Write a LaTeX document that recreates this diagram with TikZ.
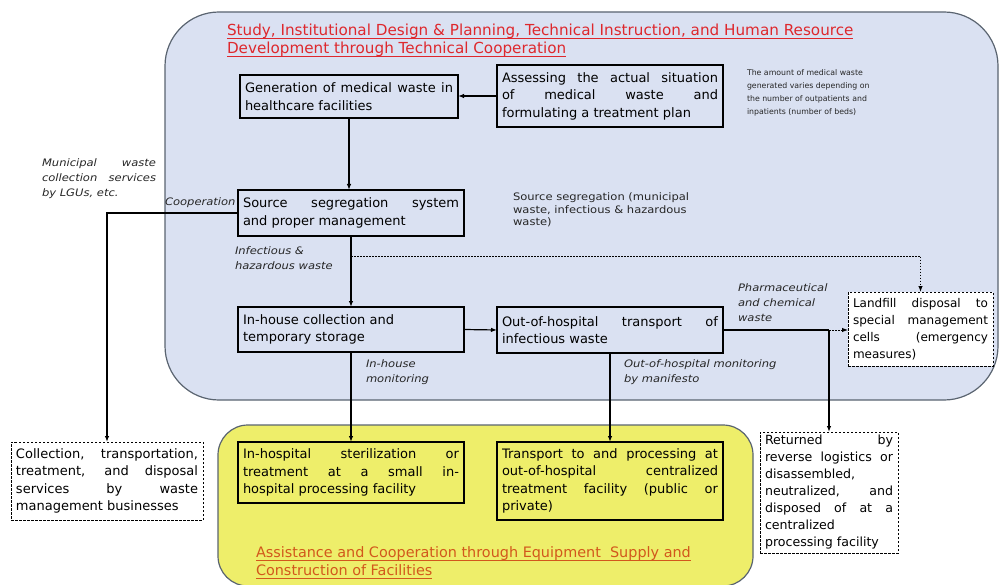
\documentclass[tikz,border=0pt]{standalone}
\usepackage{fontspec}
\setmainfont{DejaVu Sans}
\newfontfamily\notefont[FakeStretch=1.12]{DejaVu Sans}
\usetikzlibrary{arrows.meta}

\definecolor{cdae1f2}{RGB}{218,225,242}
\definecolor{ceeee6a}{RGB}{238,238,106}
\definecolor{cde282d}{RGB}{222,40,45}
\definecolor{cd2581c}{RGB}{210,88,28}
\definecolor{c5a6470}{RGB}{90,100,112}

\newcommand{\ulbar}[1]{\setbox0\hbox{#1}\rlap{\rule[-3.4pt]{\wd0}{1.1pt}}\box0}
\tolerance=9999 \hbadness=10000 \hyphenpenalty=10000 \exhyphenpenalty=10000

\begin{document}
\begin{tikzpicture}[x=1pt, y=1pt, yscale=-1, inner sep=0pt, outer sep=0pt,
  box/.style={draw=black, line width=1.3pt, anchor=north west, align=justify,
    inner xsep=5pt, font=\fontsize{13}{17.5}\selectfont},
  dashbox/.style={box, fill=white, line width=1pt, dash pattern=on 2.5pt off 1.5pt},
  note/.style={anchor=north west, align=left, text=black!85,
    font=\notefont\itshape\fontsize{10.3}{15}\selectfont},
  heading/.style={anchor=north west, align=left,
    font=\fontsize{15.2}{18}\selectfont},
  link/.style={line width=1.2pt, -{Latex[length=6pt,width=4.5pt]}},
  dotlink/.style={line width=1pt, dash pattern=on 1.5pt off 1.5pt,
    -{Latex[length=6pt,width=4.5pt]}}]
\useasboundingbox (0,0) rectangle (1000,585);

% support areas
\path[draw=c5a6470, fill=cdae1f2, line width=1.2pt, rounded corners=54pt]
  (165,12) rectangle (998,400);
\path[draw=c5a6470, fill=ceeee6a, line width=1.2pt, rounded corners=30pt]
  (218,425) rectangle (753,586);

\node[heading, text=cde282d] (techtitle) at (227,24)
  {\ulbar{Study, Institutional Design \& Planning, Technical Instruction, and Human Resource}\\
   \ulbar{Development through Technical Cooperation}};
\node[heading, text=cd2581c, font=\fontsize{14.4}{18}\selectfont] (equiptitle) at (256,547)
  {\ulbar{Assistance and Cooperation through Equipment\ \ Supply and}\\
   \ulbar{Construction of Facilities}};

% flow boxes
\node[box, text width=208pt, minimum height=43pt] (genwaste) at (240,75)
  {Generation of medical waste in healthcare facilities};
\node[box, text width=216pt, minimum height=62pt] (assess) at (497,65)
  {Assessing the actual situation\linebreak of medical waste and\linebreak formulating a treatment plan};
\node[box, text width=216pt, minimum height=46pt] (segreg) at (238,190)
  {Source segregation system\linebreak and proper management};
\node[box, text width=216pt, minimum height=45pt] (inhouse) at (238,307)
  {In-house collection and\\ temporary storage};
\node[box, text width=216pt, minimum height=46pt] (outtrans) at (497,307)
  {Out-of-hospital transport of\linebreak infectious waste};
\node[box, text width=216pt, minimum height=61pt] (sterile) at (238,442)
  {In-hospital sterilization or\linebreak treatment at a small in-\linebreak hospital processing facility};
\node[box, text width=216pt, minimum height=78pt] (central) at (497,442)
  {Transport to and processing at\linebreak out-of-hospital centralized\linebreak
   treatment facility (public or\linebreak private)};
\node[dashbox, text width=182pt, minimum height=78pt] (collect) at (11,442)
  {Collection, transportation,\linebreak treatment, and disposal\linebreak
   services by waste\linebreak management businesses};
\node[dashbox, text width=135pt, minimum height=74pt, font=\fontsize{12}{17}\selectfont]
  (landfill) at (848,292)
  {Landfill disposal to\linebreak special management\linebreak cells (emergency\linebreak measures)};
\node[dashbox, text width=128pt, minimum height=121pt, font=\fontsize{12.6}{17}\selectfont]
  (returned) at (760,432)
  {Returned by\linebreak reverse logistics or\linebreak disassembled,\\ neutralized, and\linebreak
   disposed of at a\linebreak centralized\\ processing facility};

% notes
\node[note, text width=114pt, align=justify] (lgunote) at (42,159)
  {Municipal waste\linebreak collection services\linebreak by LGUs, etc.};
\node[note, anchor=west] (coopnote) at (165,203) {Cooperation};
\node[note] (infnote) at (235,247) {Infectious \&\\ hazardous waste};
\node[note] (pharmnote) at (738,284) {Pharmaceutical\\ and chemical\\ waste};
\node[note] (inmonnote) at (366,360) {In-house\\ monitoring};
\node[note] (outmonnote) at (624,360) {Out-of-hospital monitoring\\ by manifesto};
\node[note, font=\fontsize{7.8}{13}\selectfont] (bednote) at (747,70)
  {The amount of medical waste\\ generated varies depending on\\
   the number of outpatients and\\ inpatients (number of beds)};
\node[note, font=\notefont\fontsize{10.3}{12.5}\selectfont] (segnote) at (513,193)
  {Source segregation (municipal\\ waste, infectious \& hazardous\\ waste)};

% connectors
\path (segreg.south) ++(0,20) coordinate (fork);
\coordinate (split) at (returned.north |- outtrans.east);
\draw[link] (assess.west) -- (assess.west -| genwaste.east);
\draw[link] (genwaste.south) -- (genwaste.south |- segreg.north);
\draw[link] (segreg.west) -| (collect.north);
\draw[link] (segreg.south) -- (inhouse.north);
\draw[dotlink] (fork) -| (landfill.north);
\draw[link] (inhouse.east) -- (outtrans.west);
\draw[line width=1.2pt] (outtrans.east) -- (split);
\draw[dotlink] (split) -- (split -| landfill.west);
\draw[link] (split) -- (returned.north);
\draw[link] (inhouse.south) -- (sterile.north);
\draw[link] (outtrans.south) -- (central.north);
\end{tikzpicture}
\end{document}
